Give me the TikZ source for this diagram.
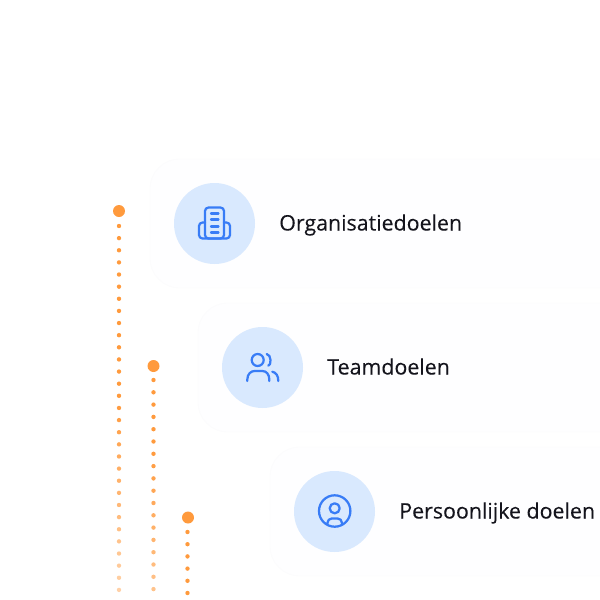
\documentclass[tikz,border=0pt]{standalone}
\usepackage{fontspec}
\setmainfont{Open Sans}
\newfontfamily\goalfont[FakeBold=0.12]{Open Sans}
\usetikzlibrary{positioning,calc}
\definecolor{dotorange}{RGB}{255,154,61}
\definecolor{cardfill}{RGB}{254,254,255}
\definecolor{cardline}{RGB}{252,252,253}
\definecolor{discblue}{RGB}{217,233,254}
\definecolor{iconblue}{RGB}{56,124,246}
\definecolor{labelink}{RGB}{20,20,28}
\tikzset{
    card/.style={fill=cardfill,draw=cardline,line width=0.6pt,rounded corners=21pt},
    disc/.style={circle,fill=discblue,minimum size=81*0.025cm,inner sep=0pt},
    bigdot/.style={circle,fill=dotorange,minimum size=12*0.025cm,inner sep=0pt},
    goal/.style={anchor=base west,inner sep=0pt,text=labelink,font=\goalfont\fontsize{15.2pt}{18pt}\selectfont},
    icon/.style={draw=iconblue,line width=1.6pt,line cap=round,line join=round},
}

\begin{document}
\begin{tikzpicture}[x=0.025cm,y=-0.025cm]
    \useasboundingbox (0,0) rectangle (600,600);
    \clip (0,0) rectangle (600,600);
    % cards
    \draw[card] (640,159) -- (150,159) -- (150,288) -- (640,288);
    \draw[card] (640,303) -- (198,303) -- (198,432) -- (640,432);
    \draw[card] (640,447) -- (270,447) -- (270,576) -- (640,576);
    % dotted lines
    \foreach \x/\ystart/\gap/\last/\fadefrom in {119/226/12.13/30/400, 153.5/380/12.3/17/450, 187.5/532/12.2/5/900}{
        \foreach \k in {0,...,\last}{
            \pgfmathsetmacro{\ypos}{\ystart+\gap*\k}
            \pgfmathsetmacro{\dotop}{1-0.55*max(0,\ypos-\fadefrom)/190}
            \fill[dotorange,opacity=\dotop] (\x,\ypos) circle (2.2);
        }
    }
    \node[bigdot] (orgdot) at (119,211) {};
    \node[bigdot] (teamdot) at (153.5,366) {};
    \node[bigdot] (persdot) at (188,517.5) {};
    % discs and labels
    \node[disc] (orgdisc) at (214.5,223.5) {};
    \node[disc] (teamdisc) at (262.5,367.5) {};
    \node[disc] (persdisc) at (334.5,511.5) {};
    \node[goal] (orglabel) at (279,230.5) {Organisatiedoelen};
    \node[goal] (teamlabel) at (327,374.5) {Teamdoelen};
    \node[goal] (perslabel) at (399,518.5) {Persoonlijke doelen};
    % building icon
    \begin{scope}[shift={(orgdisc.center)}]
        \draw[icon,rounded corners=2.5pt] (-9.5,15) -- (-9.5,-16) -- (9.5,-16) -- (9.5,15) -- cycle;
        \draw[icon,rounded corners=2.5pt] (-9.5,-1) -- (-15.5,-1) -- (-15.5,15) -- (15.5,15) -- (15.5,-1) -- (9.5,-1);
        \foreach \y in {-10,-4,3,9}{
            \draw[icon] (-3.5,\y) -- (4,\y);
        }
    \end{scope}
    % people icon
    \begin{scope}[shift={(teamdisc.center)}]
        \draw[icon] (-4.8,-7.5) circle (6);
        \draw[icon] (-15.2,13.5) -- (-15.2,12) .. controls (-15.2,6) and (-11,3.5) .. (-8,3.5) -- (0,3.5) .. controls (4,3.5) and (6.8,7) .. (6.8,12) -- (6.8,13.5);
        \draw[icon] (4.2,-13.5) .. controls (9,-13) and (9,-2) .. (5.8,-1.8);
        \draw[icon] (9.8,4.2) .. controls (13.5,5) and (15.8,8) .. (15.8,13.5);
    \end{scope}
    % person icon
    \begin{scope}[shift={(persdisc.center)}]
        \draw[icon] (0.2,-0.5) circle (15.7);
        \draw[icon] (0.2,-3.2) circle (5);
        \draw[icon,rounded corners=3pt] (-7,13) -- (-7,7) -- (7.4,7) -- (7.4,13);
    \end{scope}
\end{tikzpicture}
\end{document}
